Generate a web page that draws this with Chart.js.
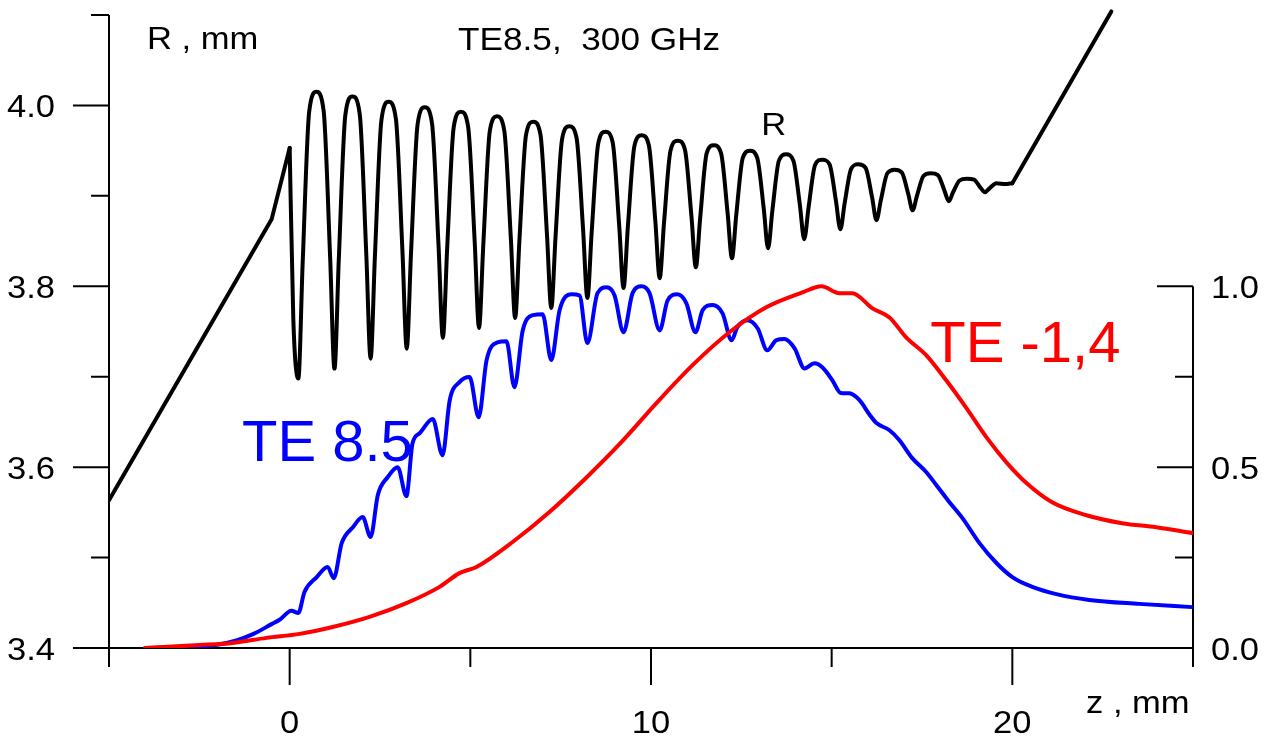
<!DOCTYPE html>
<html>
<head>
<meta charset="utf-8">
<title>TE8.5, 300 GHz</title>
<script src="https://cdn.jsdelivr.net/npm/chart.js@4.4.0/dist/chart.umd.min.js"></script>
<style>
  html, body { margin: 0; padding: 0; background: #fff; }
  canvas { display: block; }
</style>
</head>
<body>
<canvas id="chart" width="1271" height="738"></canvas>
<script>
// wall radius R(z): straight input taper, rippled section, output taper
var taperInZ = [-5, -0.5, 0];
var taperInR = [3.5635, 3.874, 3.953];

var rippleZ = [
    0.00, 0.10,
    0.24, 0.36, 0.54, 0.74, 0.94, 1.12,
    1.24, 1.36, 1.54, 1.74, 1.94, 2.12,
    2.24, 2.36, 2.54, 2.74, 2.94, 3.12,
    3.24, 3.36, 3.54, 3.74, 3.94, 4.12,
    4.24, 4.36, 4.54, 4.74, 4.94, 5.12,
    5.24, 5.36, 5.54, 5.74, 5.94, 6.12,
    6.24, 6.36, 6.54, 6.74, 6.94, 7.12,
    7.24, 7.36, 7.54, 7.74, 7.94, 8.12,
    8.24, 8.36, 8.54, 8.74, 8.94, 9.12,
    9.24, 9.36, 9.54, 9.74, 9.94, 10.12,
    10.24, 10.36, 10.54, 10.74, 10.94, 11.12,
    11.24, 11.36, 11.54, 11.74, 11.94, 12.12,
    12.24, 12.36, 12.54, 12.74, 12.94, 13.12,
    13.24, 13.36, 13.54, 13.74, 13.94, 14.12,
    14.24, 14.36, 14.54, 14.74, 14.94, 15.12,
    15.24, 15.36, 15.54, 15.74, 15.94, 16.12,
    16.24, 16.36, 16.54, 16.74, 16.94, 17.12,
    17.24, 17.36, 17.54, 17.74, 17.94, 18.12,
    18.24, 18.36, 18.54, 18.74, 18.94, 19.12,
    19.24, 19.36, 19.56, 19.80, 20.00
];
var rippleR = [
    3.953, 3.765,
    3.698, 3.826, 3.993, 4.015, 3.994, 3.832,
    3.709, 3.830, 3.989, 4.010, 3.990, 3.836,
    3.720, 3.834, 3.984, 4.004, 3.985, 3.840,
    3.731, 3.838, 3.979, 3.998, 3.980, 3.845,
    3.743, 3.843, 3.976, 3.993, 3.976, 3.850,
    3.754, 3.847, 3.972, 3.988, 3.972, 3.854,
    3.765, 3.852, 3.967, 3.982, 3.968, 3.858,
    3.776, 3.856, 3.963, 3.977, 3.964, 3.863,
    3.787, 3.861, 3.958, 3.971, 3.959, 3.867,
    3.798, 3.866, 3.955, 3.967, 3.956, 3.872,
    3.809, 3.870, 3.950, 3.961, 3.951, 3.877,
    3.821, 3.875, 3.947, 3.956, 3.947, 3.881,
    3.831, 3.879, 3.942, 3.950, 3.942, 3.886,
    3.842, 3.884, 3.939, 3.946, 3.939, 3.890,
    3.852, 3.887, 3.934, 3.940, 3.935, 3.894,
    3.863, 3.892, 3.930, 3.935, 3.931, 3.898,
    3.873, 3.895, 3.925, 3.929, 3.926, 3.902,
    3.884, 3.900, 3.922, 3.925, 3.923, 3.906,
    3.894, 3.904, 3.917, 3.919, 3.918, 3.909,
    3.904, 3.908, 3.914, 3.913, 3.914
];

var taperOutZ = [20, 22.74];
var taperOutR = [3.914, 4.104];

// relative power of the TE8.5 mode
var te85Z = [-4, -3, -2, -1.5, -1, -0.5, -0.28, 0.05, 0.24, 0.41, 0.75, 1.05, 1.22,
    1.44, 1.75, 2.02, 2.24, 2.44, 2.71, 2.99, 3.23, 3.40, 3.60, 3.96, 4.23,
    4.43, 4.70, 4.98, 5.23, 5.45, 5.75, 6.00, 6.22, 6.45, 6.73, 7.00, 7.24,
    7.47, 7.80, 8.02, 8.24, 8.52, 8.77, 8.99, 9.24, 9.49, 9.74, 9.96, 10.24,
    10.46, 10.73, 10.98, 11.23, 11.43, 11.70, 11.98, 12.23, 12.39, 12.67, 12.95, 13.22,
    13.47, 13.69, 13.97, 14.25, 14.52, 14.74, 15.02, 15.25, 15.49, 15.77, 16.05, 16.24,
    16.60, 16.87, 17.23, 17.62, 17.90, 18.26, 18.62, 19.09, 19.56, 20.00, 20.55, 21.22,
    22.13, 23.51, 24.98];
var te85V = [0.000, 0.002, 0.009, 0.020, 0.039, 0.066, 0.078, 0.103, 0.097, 0.155, 0.196, 0.224, 0.193,
    0.290, 0.334, 0.362, 0.307, 0.423, 0.472, 0.500, 0.420, 0.566, 0.594, 0.633, 0.533,
    0.685, 0.735, 0.749, 0.638, 0.796, 0.845, 0.848, 0.721, 0.878, 0.920, 0.923, 0.796,
    0.934, 0.978, 0.975, 0.843, 0.981, 0.997, 0.975, 0.873, 0.981, 1.000, 0.981, 0.878,
    0.961, 0.978, 0.953, 0.873, 0.934, 0.948, 0.925, 0.851, 0.887, 0.906, 0.884, 0.823,
    0.851, 0.854, 0.829, 0.773, 0.787, 0.776, 0.740, 0.705, 0.704, 0.685, 0.645, 0.622,
    0.602, 0.575, 0.525, 0.486, 0.450, 0.403, 0.359, 0.290, 0.235, 0.196, 0.169, 0.149,
    0.133, 0.122, 0.113];

// relative power of the TE-1,4 mode
var te14Z = [-4, -2.5, -1.58, -0.64, 0.28, 1.19, 2.21, 3.23, 4.15, 4.70, 5.17, 6.17, 7.19,
    8.20, 9.18, 10.15, 11.15, 12.17, 13.19, 14.19, 14.72, 15.21, 15.57, 16.13, 16.60,
    17.06, 17.62, 18.17, 18.73, 19.28, 19.83, 20.39, 21.10, 22.05, 23.04, 23.98, 24.98];
var te14V = [0.000, 0.008, 0.014, 0.028, 0.039, 0.058, 0.086, 0.124, 0.169, 0.207, 0.224, 0.293, 0.376,
    0.470, 0.569, 0.677, 0.782, 0.873, 0.942, 0.983, 1.000, 0.981, 0.981, 0.939, 0.914,
    0.859, 0.809, 0.740, 0.663, 0.583, 0.514, 0.456, 0.403, 0.367, 0.345, 0.334, 0.318];

// axis ticks
var zMajor = [0, 10, 20];
var zMinor = [-5, 5, 15, 25];
var rMajor = [3.4, 3.6, 3.8, 4.0];
var rMinor = [3.5, 3.7, 3.9, 4.1];
var pMajor = [0.0, 0.5, 1.0];
var pMinor = [0.25, 0.75];

function pairs(xs, ys) {
    return xs.map(function (v, i) { return { x: v, y: ys[i] }; });
}

var FONT = '"Liberation Sans", Arial, sans-serif';

function drawText(ctx, text, px, py, size, color, align, stretch) {
    ctx.save();
    ctx.translate(px, py);
    ctx.scale(stretch, 1);
    ctx.font = size + 'px ' + FONT;
    ctx.fillStyle = color;
    ctx.textAlign = align;
    ctx.textBaseline = 'alphabetic';
    ctx.fillText(text, 0, 0);
    ctx.restore();
}

// frame: left R axis, right power axis, bottom z axis with outward ticks
var axesPlugin = {
    id: 'axes',
    beforeDatasetsDraw: function (chart) {
        var ctx = chart.ctx;
        var a = chart.chartArea;
        var xs = chart.scales.x, ys = chart.scales.y, ps = chart.scales.y2;
        var left = a.left, right = a.right, bottom = a.bottom;

        ctx.save();
        ctx.strokeStyle = '#000';
        ctx.lineWidth = 2;
        ctx.beginPath();

        ctx.moveTo(left, ys.getPixelForValue(4.1));
        ctx.lineTo(left, bottom);
        rMajor.forEach(function (v) {
            var py = ys.getPixelForValue(v);
            ctx.moveTo(left - 36, py); ctx.lineTo(left, py);
        });
        rMinor.forEach(function (v) {
            var py = ys.getPixelForValue(v);
            ctx.moveTo(left - 18, py); ctx.lineTo(left, py);
        });

        ctx.moveTo(right, ps.getPixelForValue(1.0));
        ctx.lineTo(right, bottom);
        pMajor.forEach(function (v) {
            var py = ps.getPixelForValue(v);
            ctx.moveTo(right - 36, py); ctx.lineTo(right, py);
        });
        pMinor.forEach(function (v) {
            var py = ps.getPixelForValue(v);
            ctx.moveTo(right - 18, py); ctx.lineTo(right, py);
        });

        ctx.moveTo(left - 36, bottom);
        ctx.lineTo(right, bottom);
        zMajor.forEach(function (v) {
            var px = xs.getPixelForValue(v);
            ctx.moveTo(px, bottom); ctx.lineTo(px, bottom + 37);
        });
        zMinor.forEach(function (v) {
            var px = xs.getPixelForValue(v);
            ctx.moveTo(px, bottom); ctx.lineTo(px, bottom + 19);
        });
        ctx.stroke();
        ctx.restore();
    },
    afterDraw: function (chart) {
        var ctx = chart.ctx;
        var a = chart.chartArea;
        var xs = chart.scales.x, ys = chart.scales.y, ps = chart.scales.y2;

        rMajor.forEach(function (v) {
            drawText(ctx, v.toFixed(1), 55, ys.getPixelForValue(v) + 12, 32, '#000', 'right', 1.08);
        });
        pMajor.forEach(function (v) {
            drawText(ctx, v.toFixed(1), a.right + 18, ps.getPixelForValue(v) + 12, 32, '#000', 'left', 1.08);
        });
        zMajor.forEach(function (v) {
            drawText(ctx, String(v), xs.getPixelForValue(v), a.bottom + 85, 32, '#000', 'center', 1.08);
        });

        drawText(ctx, 'R , mm', 147, 49, 32, '#000', 'left', 1.08);
        drawText(ctx, 'z , mm', 1086, 713, 32, '#000', 'left', 1.08);
        drawText(ctx, 'TE8.5,  300 GHz', 458, 50, 32, '#000', 'left', 1.1);

        drawText(ctx, 'R', xs.getPixelForValue(13.05), ys.getPixelForValue(3.967), 32, '#000', 'left', 1.08);
        drawText(ctx, 'TE 8.5', xs.getPixelForValue(-1.32), ps.getPixelForValue(0.516), 58, '#0000ff', 'left', 1);
        drawText(ctx, 'TE -1,4', xs.getPixelForValue(17.73), ps.getPixelForValue(0.79), 58, '#ff0000', 'left', 1);
    }
};

var ctx = document.getElementById('chart');
var chart = new Chart(ctx, {
    type: 'line',
    data: {
        datasets: [{
            label: 'R',
            data: pairs(rippleZ, rippleR),
            yAxisID: 'y',
            borderColor: '#000',
            borderWidth: 4,
            cubicInterpolationMode: 'monotone'
        }, {
            label: 'R taper in',
            data: pairs(taperInZ, taperInR),
            yAxisID: 'y',
            borderColor: '#000',
            borderWidth: 4,
            tension: 0
        }, {
            label: 'R taper out',
            data: pairs(taperOutZ, taperOutR),
            yAxisID: 'y',
            borderColor: '#000',
            borderWidth: 4,
            tension: 0,
            clip: false
        }, {
            label: 'TE -1,4',
            data: pairs(te14Z, te14V),
            yAxisID: 'y2',
            borderColor: '#ff0000',
            borderWidth: 4,
            cubicInterpolationMode: 'monotone'
        }, {
            label: 'TE 8.5',
            data: pairs(te85Z, te85V),
            yAxisID: 'y2',
            borderColor: '#0000ff',
            borderWidth: 4,
            cubicInterpolationMode: 'monotone'
        }]
    },
    options: {
        responsive: false,
        devicePixelRatio: 1,
        animation: false,
        elements: {
            point: { radius: 0 },
            line: { borderCapStyle: 'round', borderJoinStyle: 'round' }
        },
        layout: {
            padding: { left: 109, top: 15, right: 78, bottom: 90 }
        },
        scales: {
            x: { type: 'linear', min: -5, max: 25, display: false },
            y: { type: 'linear', min: 3.4, max: 4.1, display: false },
            y2: { type: 'linear', min: 0, max: 1.75, display: false }
        },
        plugins: {
            legend: { display: false },
            tooltip: { enabled: false }
        }
    },
    plugins: [axesPlugin]
});
</script>
</body>
</html>
